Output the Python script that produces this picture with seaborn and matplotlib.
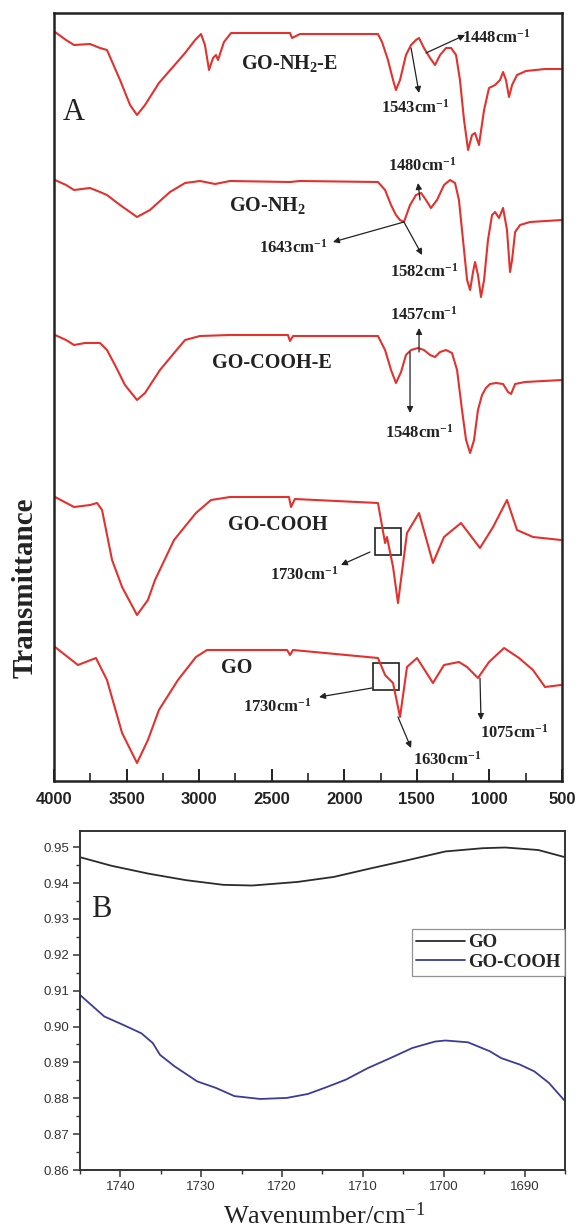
import numpy as np
import pandas as pd
import matplotlib
matplotlib.use('Agg')
import matplotlib.pyplot as plt
import seaborn as sns
from matplotlib.patches import Rectangle
from matplotlib.ticker import MultipleLocator

# ---- Panel A: FTIR spectra (wavenumber, offset transmittance in a.u.) ----
wn_nh2e = [3993, 3917, 3862, 3752, 3683, 3635, 3545, 3476, 3428, 3373, 3277, 3187, 3097,
           3028, 2987, 2960, 2932, 2904, 2884, 2870, 2829, 2780, 2374, 2360, 2305, 1768,
           1740, 1699, 1664, 1644, 1616, 1575, 1540, 1506, 1485, 1451, 1409, 1375, 1340,
           1299, 1264, 1230, 1203, 1175, 1147, 1120, 1099, 1072, 1037, 1003, 961, 927,
           906, 886, 865, 844, 810, 748, 617, 500]
t_nh2e = [749, 741, 736, 737, 733, 731, 701, 676, 666, 676, 698, 713, 728,
          741, 747, 736, 711, 723, 726, 721, 739, 748, 748, 743, 747, 747,
          739, 721, 701, 691, 701, 726, 736, 741, 743, 733, 723, 716, 726,
          733, 733, 726, 701, 661, 631, 646, 648, 636, 671, 693, 696, 701,
          709, 701, 684, 696, 706, 710, 712, 712]

wn_nh2 = [3993, 3917, 3862, 3752, 3683, 3635, 3545, 3428, 3339, 3201, 3097, 2994, 2890,
          2787, 2374, 2305, 1768, 1719, 1678, 1644, 1616, 1589, 1547, 1506, 1471, 1437,
          1403, 1361, 1313, 1271, 1237, 1210, 1182, 1154, 1133, 1113, 1099, 1079, 1058,
          1037, 1010, 982, 961, 934, 906, 879, 858, 844, 823, 789, 720, 500]
t_nh2 = [601, 596, 591, 593, 589, 586, 576, 564, 571, 589, 598, 600, 597,
         600, 599, 600, 599, 591, 576, 566, 561, 559, 576, 586, 588, 581,
         573, 581, 596, 601, 598, 581, 541, 501, 491, 509, 519, 506, 484,
         501, 541, 566, 569, 563, 573, 551, 509, 521, 549, 556, 559, 561]

wn_coohe = [3993, 3917, 3862, 3786, 3683, 3635, 3580, 3511, 3428, 3373, 3270, 3167, 3097,
            2994, 2787, 2388, 2374, 2353, 1768, 1719, 1678, 1644, 1609, 1575, 1540, 1492,
            1451, 1409, 1375, 1340, 1299, 1258, 1223, 1189, 1161, 1133, 1106, 1079, 1051,
            1024, 996, 954, 906, 872, 851, 823, 755, 500]
t_coohe = [446, 441, 436, 438, 438, 431, 416, 396, 381, 388, 411, 429, 441,
           445, 446, 446, 440, 445, 445, 431, 411, 398, 409, 426, 431, 433,
           431, 426, 424, 429, 431, 428, 411, 371, 341, 328, 341, 371, 386,
           393, 397, 398, 397, 389, 387, 397, 399, 401]

wn_cooh = [3993, 3862, 3752, 3703, 3669, 3600, 3531, 3428, 3353, 3304, 3173, 3022, 2918,
           2787, 2381, 2367, 2340, 1768, 1719, 1706, 1664, 1630, 1568, 1485, 1389, 1313,
           1196, 1065, 975, 879, 810, 700, 507]
t_cooh = [284, 274, 276, 278, 271, 221, 194, 166, 181, 201, 241, 268, 281,
          284, 284, 274, 282, 278, 238, 244, 214, 178, 248, 268, 218, 244,
          258, 233, 254, 281, 251, 244, 241]

wn_go = [3993, 3835, 3711, 3635, 3531, 3428, 3353, 3277, 3146, 3022, 2946, 2394, 2374,
         2353, 1768, 1719, 1699, 1664, 1616, 1568, 1499, 1389, 1313, 1210, 1154, 1079,
         1003, 899, 796, 700, 617, 507]
t_go = [134, 116, 123, 101, 48, 18, 41, 71, 101, 124, 131, 131, 126,
        131, 123, 106, 103, 98, 64, 114, 123, 98, 116, 119, 114, 103,
        119, 133, 123, 111, 94, 96]

# ---- Panel B: zoom 1745-1685 cm-1 ----
wn_b_go = [1745, 1741.1, 1736.5, 1731.9, 1727.3, 1723.7, 1718.1, 1713.6, 1709.0,
           1704.4, 1699.8, 1695.2, 1692.4, 1688.3, 1685.0]
t_b_go = [0.9472, 0.9448, 0.9426, 0.9408, 0.9395, 0.9393, 0.9403, 0.9417, 0.9441,
          0.9464, 0.9488, 0.9497, 0.9499, 0.9492, 0.9472]
wn_b_cooh = [1745, 1742.0, 1739.7, 1737.4, 1736.0, 1735.1, 1733.3, 1730.5, 1728.2,
             1725.9, 1722.7, 1719.4, 1716.8, 1714.5, 1712.1, 1709.4, 1706.6, 1703.9,
             1701.1, 1699.8, 1697.0, 1694.3, 1692.9, 1690.6, 1688.8, 1687.0, 1685.0]
t_b_cooh = [0.9088, 0.9028, 0.9005, 0.8981, 0.8954, 0.8921, 0.8889, 0.8847, 0.8829,
            0.8806, 0.8798, 0.8801, 0.8812, 0.8831, 0.8852, 0.8884, 0.8912, 0.8940,
            0.8958, 0.8961, 0.8956, 0.8931, 0.8912, 0.8894, 0.8875, 0.8843, 0.8792]

sns.set_theme(style='ticks')
plt.rcParams['font.family'] = ['Liberation Serif', 'DejaVu Serif']
plt.rcParams['mathtext.fontset'] = 'custom'
plt.rcParams['mathtext.rm'] = 'Liberation Serif'
plt.rcParams['mathtext.bf'] = 'Liberation Serif:bold'
plt.rcParams['mathtext.it'] = 'Liberation Serif:italic'

RED = '#e3312d'
W, H = 581, 1230
fig = plt.figure(figsize=(W / 100, H / 100), dpi=100)

# ---------------- Panel A ----------------
axA = fig.add_axes([54 / W, 1 - 781 / H, (562 - 54) / W, (781 - 13) / H])
spectra = [(wn_nh2e, t_nh2e), (wn_nh2, t_nh2), (wn_coohe, t_coohe),
           (wn_cooh, t_cooh), (wn_go, t_go)]
for wn, t in spectra:
    d = pd.DataFrame({'wn': wn, 't': t})
    sns.lineplot(data=d, x='wn', y='t', ax=axA, color=RED, lw=1.5,
                 estimator=None, sort=False)
axA.set_xlim(4000, 500)
axA.set_ylim(0, 768)
axA.set_yticks([])
axA.set_xlabel('')
axA.set_ylabel('')
axA.xaxis.set_major_locator(MultipleLocator(500))
axA.xaxis.set_minor_locator(MultipleLocator(250))
axA.tick_params(axis='x', which='major', direction='in', length=9, width=1.4,
                color='#222222', pad=8)
axA.tick_params(axis='x', which='minor', direction='in', length=6, width=1.2,
                color='#222222')
for lab in axA.get_xticklabels():
    lab.set_fontfamily('Liberation Sans')
    lab.set_fontweight('bold')
    lab.set_fontsize(12)
    lab.set_color('#222222')
for s in axA.spines.values():
    s.set_linewidth(1.8)
    s.set_color('#222222')

name_kw = dict(fontsize=14.5, fontweight='bold', ha='center', va='center', color='#222222')
axA.text(2381, 718, 'GO-NH$_\\mathbf{2}$-E', **name_kw)
axA.text(2532, 576, 'GO-NH$_\\mathbf{2}$', **name_kw)
axA.text(2498, 418, 'GO-COOH-E', **name_kw)
axA.text(2457, 256, 'GO-COOH', **name_kw)
axA.text(2739, 113, 'GO', **name_kw)
axA.text(3862, 668, 'A', fontsize=22, ha='center', va='center', color='#222222')

arrow = dict(arrowstyle='-|>', color='#222222', lw=0.9, mutation_scale=9,
             shrinkA=0, shrinkB=0)
peaks = [  # label, tail (on curve), head, text centre
    ('1448', (1437, 728), (1168, 746), (955, 743)),
    ('1543', (1540, 733), (1485, 688), (1513, 673)),
    ('1480', (1478, 581), (1492, 598), (1464, 615)),
    ('1643', (1589, 559), (2078, 539), (2353, 533)),
    ('1582', (1589, 559), (1464, 526), (1451, 509)),
    ('1457', (1485, 429), (1485, 453), (1451, 466)),
    ('1548', (1547, 429), (1547, 368), (1485, 348)),
    ('1730', (1823, 229), (2023, 216), (2277, 206)),
    ('1730', (1809, 93), (2174, 84), (2464, 74)),
    ('1630', (1630, 64), (1540, 33), (1292, 21)),
    ('1075', (1065, 103), (1058, 61), (831, 48)),
]
for lab, tail, head, txt in peaks:
    axA.annotate('', xy=head, xytext=tail, arrowprops=arrow)
    axA.text(txt[0], txt[1], lab + 'cm$^{\\mathbf{-1}}$', fontsize=12,
             fontweight='bold', ha='center', va='center', color='#222222')

for x0, x1, y0, y1 in [(1788, 1609, 226, 253), (1802, 1623, 91, 118)]:
    axA.add_patch(Rectangle((x0, y0), x1 - x0, y1 - y0, fill=False,
                            edgecolor='#222222', lw=1.2))

fig.text(25 / W, 1 - 588 / H, 'Transmittance', rotation=90, fontsize=21,
         fontweight='bold', ha='center', va='center', color='#222222')

# ---------------- Panel B ----------------
axB = fig.add_axes([80 / W, 1 - 1170 / H, (565 - 80) / W, (1170 - 831) / H])
dB = pd.DataFrame({'wn': wn_b_go + wn_b_cooh,
                   't': t_b_go + t_b_cooh,
                   's': ['GO'] * len(wn_b_go) + ['GO-COOH'] * len(wn_b_cooh)})
sns.lineplot(data=dB, x='wn', y='t', hue='s', ax=axB, estimator=None,
             palette={'GO': '#2b2b2b', 'GO-COOH': '#3b3b9a'}, lw=1.3)
axB.set_xlim(1745, 1685)
axB.set_ylim(0.86, 0.9545)
axB.set_xlabel('')
axB.set_ylabel('')
axB.xaxis.set_major_locator(MultipleLocator(10))
axB.xaxis.set_minor_locator(MultipleLocator(5))
axB.yaxis.set_major_locator(MultipleLocator(0.01))
axB.yaxis.set_minor_locator(MultipleLocator(0.005))
axB.yaxis.set_major_formatter(matplotlib.ticker.FormatStrFormatter('%.2f'))
axB.tick_params(which='major', direction='out', length=5, width=1.1, color='#333333',
                labelsize=9.5, labelcolor='#333333', pad=3)
axB.tick_params(which='minor', direction='out', length=3, width=1.0, color='#333333')
for lab in axB.get_xticklabels() + axB.get_yticklabels():
    lab.set_fontfamily('Liberation Sans')
for s in axB.spines.values():
    s.set_linewidth(1.4)
    s.set_color('#333333')
axB.text(1742.4, 0.9325, 'B', fontsize=22, ha='center', va='center', color='#222222')

leg = axB.legend(loc='upper right', bbox_to_anchor=(1.0, 0.71), frameon=True,
                 fancybox=False, handlelength=2.6, handletextpad=0.15,
                 borderpad=0.25, labelspacing=0.15, borderaxespad=0,
                 prop={'family': 'Liberation Serif', 'weight': 'bold', 'size': 13.5})
leg.get_frame().set_edgecolor('#777777')
leg.get_frame().set_linewidth(0.9)
for ln in leg.get_lines():
    ln.set_linewidth(1.3)

fig.text(324 / W, 1 - 1216 / H, 'Wavenumber/cm$^{-1}$', fontsize=19,
         ha='center', va='center', color='#222222')

fig.savefig('out.png', dpi=100)
